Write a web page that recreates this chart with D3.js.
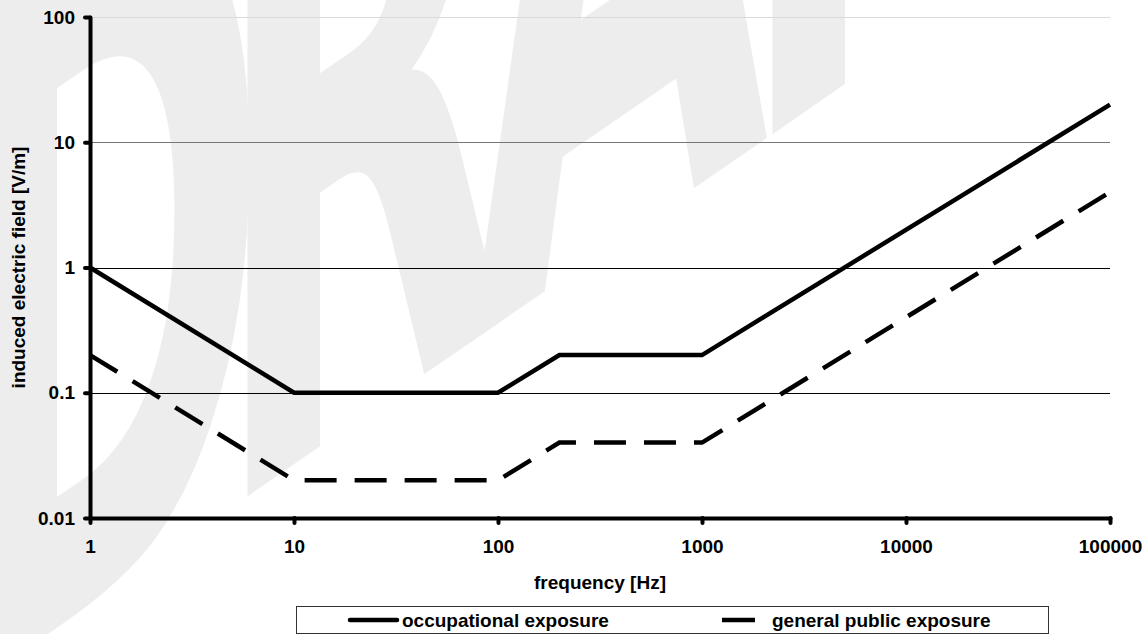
<!DOCTYPE html>
<html>
<head>
<meta charset="utf-8">
<script src="https://cdn.jsdelivr.net/npm/d3@7"></script>
<style>
  body { margin: 0; background: #fff; }
  svg { display: block; font-family: "Liberation Sans", Arial, sans-serif; font-weight: bold; }
</style>
</head>
<body>
<svg id="chart" width="1147" height="634"></svg>
<script>
// Reference levels for induced electric field vs frequency (log-log)
const freqs = [1, 10, 100, 200, 1000, 100000];
const occupational = [1, 0.1, 0.1, 0.2, 0.2, 20];
const generalPublic = [0.2, 0.02, 0.02, 0.04, 0.04, 4];

const xTicks = [1, 10, 100, 1000, 10000, 100000];
const xTickLabels = ["1", "10", "100", "1000", "10000", "100000"];
const yTicks = [0.01, 0.1, 1, 10, 100];
const yTickLabels = ["0.01", "0.1", "1", "10", "100"];

const seriesNames = ["occupational exposure", "general public exposure"];

// background watermark letters
const wmLetters = ["D", "R", "A", "F", "T"];
const wmOffsets = [-51, 212, 470, 737, 967];

const width = 1147, height = 634;
const margin = { top: 17, right: 37, bottom: 116, left: 90 };

const svg = d3.select('#chart');

const x = d3.scaleLog()
    .domain([1, 100000])
    .range([margin.left, width - margin.right]);

const y = d3.scaleLog()
    .domain([0.01, 100])
    .range([height - margin.bottom, margin.top]);

// Watermark: skewed so the baseline climbs to the right, stems stay vertical
const sx = 0.42;
const wm = svg.append('text')
    .attr('transform', `translate(0,667) skewY(-34.6) scale(${sx},1)`)
    .style('font-family', '"DejaVu Sans", sans-serif')
    .style('font-weight', 'bold')
    .style('font-size', '919px')
    .attr('fill', '#ededed');

wm.selectAll('tspan')
    .data(wmLetters)
    .join('tspan')
    .attr('x', (d, i) => wmOffsets[i] / sx)
    .attr('y', 0)
    .text(d => d);

// Horizontal gridlines (top ones fade out)
const gridColor = v => v === 100 ? '#d9d9d9' : (v === 10 ? '#777' : '#000');

svg.append('g')
    .selectAll('line')
    .data(yTicks.filter(v => v > 0.01))
    .join('line')
    .attr('x1', x.range()[0])
    .attr('x2', x.range()[1])
    .attr('y1', d => Math.round(y(d)) + 0.5)
    .attr('y2', d => Math.round(y(d)) + 0.5)
    .attr('stroke', d => gridColor(d))
    .attr('stroke-width', 1);

// Axes
const yAxis = d3.axisLeft(y)
    .tickValues(yTicks)
    .tickFormat((d, i) => yTickLabels[i])
    .tickSize(5)
    .tickSizeOuter(0)
    .tickPadding(10);

const xAxis = d3.axisBottom(x)
    .tickValues(xTicks)
    .tickFormat((d, i) => xTickLabels[i])
    .tickSize(5)
    .tickSizeOuter(0)
    .tickPadding(17);

const gy = svg.append('g')
    .attr('transform', `translate(${margin.left},0)`)
    .call(yAxis);

const gx = svg.append('g')
    .attr('transform', `translate(0,${height - margin.bottom})`)
    .call(xAxis);

[gx, gy].forEach(g => {
    g.attr('font-size', null).attr('font-family', null);
    g.select('.domain')
        .attr('stroke', '#000')
        .attr('stroke-width', 4)
        .attr('stroke-linecap', 'round');
    g.selectAll('.tick line')
        .attr('stroke', '#000')
        .attr('stroke-width', 4)
        .attr('stroke-linecap', 'round');
    g.selectAll('.tick text')
        .style('font-size', '19px')
        .style('font-weight', 'bold')
        .attr('fill', '#000');
});

// Axis titles
svg.append('text')
    .attr('x', (x.range()[0] + x.range()[1]) / 2)
    .attr('y', 589)
    .attr('text-anchor', 'middle')
    .style('font-size', '19px')
    .text('frequency [Hz]');

svg.append('text')
    .attr('transform', `translate(25,${(y.range()[0] + y.range()[1]) / 2}) rotate(-90)`)
    .attr('text-anchor', 'middle')
    .style('font-size', '19px')
    .text('induced electric field [V/m]');

// Curves
const line = d3.line()
    .x(d => x(d[0]))
    .y(d => y(d[1]));

const dashes = [null, '32,18'];
const seriesData = [occupational, generalPublic];

svg.append('g')
    .selectAll('path')
    .data(seriesData)
    .join('path')
    .attr('d', vals => line(freqs.map((f, i) => [f, vals[i]])))
    .attr('fill', 'none')
    .attr('stroke', '#000')
    .attr('stroke-width', 4.5)
    .attr('stroke-linejoin', 'miter')
    .attr('stroke-dasharray', (d, i) => dashes[i]);

// Legend
const legend = svg.append('g');
legend.append('rect')
    .attr('x', 296.5).attr('y', 606.5)
    .attr('width', 752).attr('height', 27)
    .attr('fill', '#fff')
    .attr('stroke', '#333')
    .attr('stroke-width', 1);

const legendItems = [
    { x1: 350, x2: 397, tx: 402 },
    { x1: 722, x2: 755, tx: 772 }
];

legendItems.forEach((it, i) => {
    legend.append('line')
        .attr('x1', it.x1).attr('x2', it.x2)
        .attr('y1', 620).attr('y2', 620)
        .attr('stroke', '#000')
        .attr('stroke-width', 4.5)
        .attr('stroke-linecap', i === 0 ? 'round' : 'butt');
    legend.append('text')
        .attr('x', it.tx)
        .attr('y', 620)
        .attr('dy', '0.35em')
        .style('font-size', '19px')
        .text(seriesNames[i]);
});
</script>
</body>
</html>
